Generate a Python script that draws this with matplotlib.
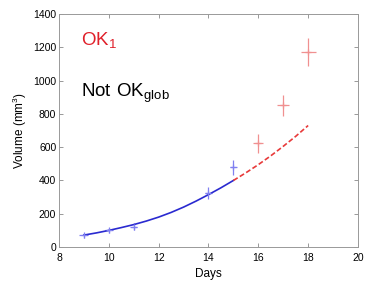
import matplotlib
matplotlib.use("Agg")
import matplotlib.pyplot as plt

plt.rcParams['font.family'] = ['Liberation Sans', 'DejaVu Sans']
plt.rcParams['mathtext.fontset'] = 'custom'
plt.rcParams['mathtext.rm'] = 'Liberation Sans'

# observed data (fit window, blue) and predicted window (red)
fit_days = [9, 10, 11, 14, 15]
fit_vol = [72, 100, 122, 326, 478]
fit_yerr = [15, 15, 22, 35, 45]
fit_xerr = [0.18, 0.15, 0.15, 0.15, 0.14]

pred_days = [16, 17, 18]
pred_vol = [622, 852, 1172]
pred_yerr = [55, 62, 82]
pred_xerr = [0.2, 0.25, 0.3]

# model curve
curve_fit_days = [9, 9.5, 10, 10.5, 11, 11.5, 12, 12.5, 13, 13.5, 14, 14.5, 15]
curve_fit_vol = [72, 85, 100, 117, 135, 156, 180, 208, 240, 276, 315, 356, 400]
curve_pred_days = [15, 15.5, 16, 16.5, 17, 17.5, 18]
curve_pred_vol = [400, 446, 495, 548, 605, 665, 730]

fig = plt.figure(figsize=(3.76, 2.91), dpi=100)
ax = fig.add_axes([0.157, 0.151, 0.795, 0.801])

ax.errorbar(fit_days, fit_vol, yerr=fit_yerr, xerr=fit_xerr, fmt='+',
            color='#8080f0', ms=5, elinewidth=0.9, mew=0.9, capsize=0)
ax.errorbar(pred_days, pred_vol, yerr=pred_yerr, xerr=pred_xerr, fmt='+',
            color='#f09090', ms=5, elinewidth=0.9, mew=0.9, capsize=0)
ax.plot(curve_fit_days, curve_fit_vol, '-', color='#2a2ad0', lw=1.2)
ax.plot(curve_pred_days, curve_pred_vol, '--', color='#e83a3a', lw=1.2,
        dashes=(3, 1.5))

ax.text(8.87, 1212, r'$\mathrm{OK}_1$', color='#e0202a', fontsize=13.5,
        va='baseline', ha='left')
ax.text(8.87, 901, r'$\mathrm{Not\ OK}_{\mathrm{glob}}$', color='black',
        fontsize=13.5, va='baseline', ha='left')

ax.set_xlim(8, 20)
ax.set_ylim(0, 1400)
ax.set_xticks([8, 10, 12, 14, 16, 18, 20])
ax.set_yticks(range(0, 1401, 200))
ax.tick_params(direction='in', top=True, right=True, length=3, width=0.6,
               labelsize=7.5, color='#888888')
ax.tick_params(axis='x', pad=4)
ax.tick_params(axis='y', pad=2)
for s in ax.spines.values():
    s.set_color('#999999')
    s.set_linewidth(0.7)
ax.set_xlabel('Days', fontsize=8.5, labelpad=4)
ax.set_ylabel(r'Volume (mm$^3$)', fontsize=8.5, labelpad=3)

fig.savefig('out.png', dpi=100)
